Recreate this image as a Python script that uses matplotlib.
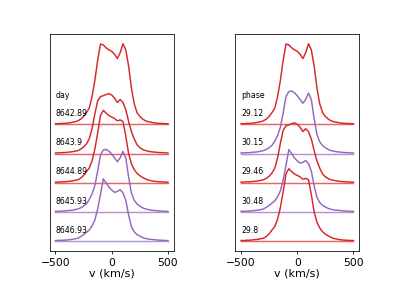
import numpy as np
import matplotlib
matplotlib.use('Agg')
import matplotlib.pyplot as plt

# velocity grid (km/s) and line profiles
v = np.arange(-500, 501, 25)

# 8642.89 / phase 29.12
prof_a = [0.02, 0.02, 0.03, 0.03, 0.04, 0.05, 0.07, 0.09, 0.12, 0.18, 0.27, 0.4,
          0.55, 0.95, 1.5, 2.2, 2.75, 2.72, 2.62, 2.55, 2.5, 2.4, 2.25, 2.45, 2.76,
          2.55, 2.0, 1.25, 0.7, 0.4, 0.27, 0.18, 0.12, 0.09, 0.07, 0.05, 0.04, 0.03,
          0.03, 0.02, 0.02]
# 8643.9 / phase 29.46
prof_b = [0.02, 0.02, 0.03, 0.03, 0.04, 0.05, 0.06, 0.08, 0.1, 0.15, 0.22, 0.33,
          0.5, 0.85, 1.35, 1.8, 1.95, 1.98, 2.02, 2.05, 2.0, 1.9, 1.75, 1.85, 1.75,
          1.5, 1.1, 0.75, 0.5, 0.3, 0.2, 0.14, 0.1, 0.08, 0.06, 0.05, 0.04, 0.03,
          0.03, 0.02, 0.02]
# 8644.89 / phase 29.8
prof_c = [0.02, 0.02, 0.03, 0.03, 0.04, 0.05, 0.06, 0.08, 0.1, 0.16, 0.25, 0.38,
          0.5, 0.75, 1.15, 1.7, 2.3, 2.48, 2.38, 2.3, 2.25, 2.2, 2.12, 2.15, 2.1,
          1.6, 1.0, 0.65, 0.45, 0.32, 0.24, 0.18, 0.13, 0.09, 0.07, 0.05, 0.04, 0.03,
          0.03, 0.02, 0.02]
# 8645.93 / phase 30.15
prof_d = [0.02, 0.02, 0.03, 0.03, 0.04, 0.05, 0.06, 0.08, 0.1, 0.14, 0.2, 0.28,
          0.42, 0.62, 0.9, 1.4, 1.95, 2.12, 2.14, 2.08, 1.98, 1.85, 1.72, 1.85, 2.07,
          1.85, 1.2, 0.65, 0.4, 0.27, 0.2, 0.14, 0.1, 0.08, 0.06, 0.05, 0.04, 0.03,
          0.03, 0.02, 0.02]
# 8646.93 / phase 30.48
prof_e = [0.02, 0.02, 0.03, 0.03, 0.04, 0.05, 0.06, 0.08, 0.1, 0.16, 0.22, 0.3,
          0.38, 0.52, 0.72, 1.1, 1.6, 2.13, 2.0, 1.85, 1.75, 1.67, 1.7, 1.76, 1.65,
          1.4, 0.9, 0.5, 0.32, 0.22, 0.17, 0.12, 0.09, 0.07, 0.06, 0.05, 0.04, 0.03,
          0.03, 0.02, 0.02]

days = ['8642.89', '8643.9', '8644.89', '8645.93', '8646.93']
phases = ['29.12', '30.15', '29.46', '30.48', '29.8']

red = '#d62728'
purple = '#9467bd'

# left panel ordered by day, right panel ordered by phase
left_profiles = [prof_a, prof_b, prof_c, prof_d, prof_e]
left_colors = [red, red, red, purple, purple]
right_profiles = [prof_a, prof_d, prof_b, prof_e, prof_c]
right_colors = [red, purple, red, purple, red]

fig, axes = plt.subplots(1, 2, figsize=(399 / 70, 282 / 70), dpi=70)
fig.subplots_adjust(wspace=0.5)

panels = [(axes[0], left_profiles, left_colors, days, 'day'),
          (axes[1], right_profiles, right_colors, phases, 'phase')]

for ax, profs, cols, labels, head in panels:
    n = len(profs)
    for i in range(n):
        off = n - 1 - i
        ax.plot(v, np.array(profs[i]) + off, color=cols[i], lw=1.5)
        ax.plot([v[0], v[-1]], [off, off], color=cols[i], lw=1.5, alpha=0.7)
        ax.text(-500, off + 0.37, labels[i], fontsize=8, ha='left', va='center')
    ax.text(-500, n - 1 + 1.0, head, fontsize=8, ha='left', va='center')
    ax.set_yticks([])
    ax.tick_params(axis='x', labelsize=11)
    ax.set_xlabel('v (km/s)', fontsize=11.5, labelpad=1)

plt.savefig('out.png', dpi=70)
